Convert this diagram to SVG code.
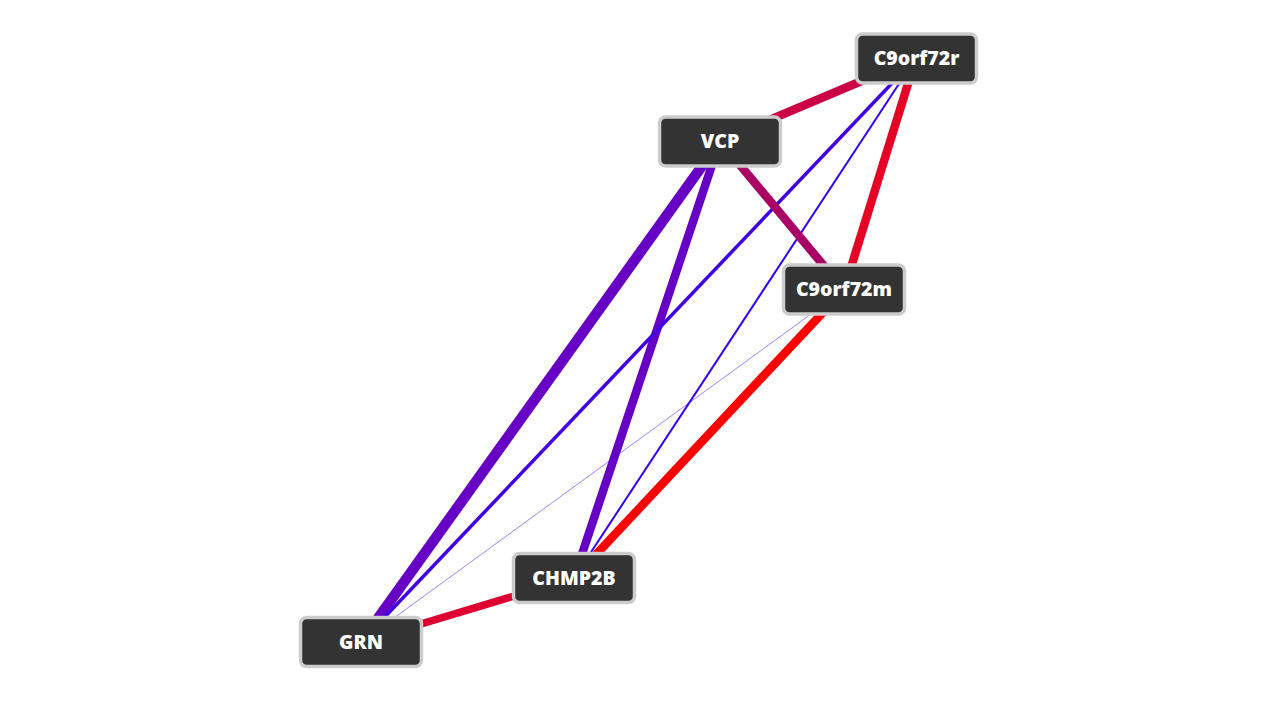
<svg xmlns="http://www.w3.org/2000/svg" width="1278" height="701" viewBox="0 0 1278 701">
<style>
.n rect{fill:#333333;stroke:#cccccc;stroke-width:3.5}
.n text{fill:#ffffff;font-family:"Open Sans","Noto Sans","DejaVu Sans",sans-serif;font-weight:800;font-size:19.5px;text-anchor:middle;dominant-baseline:central}
#edges line{fill:none}
</style>
<rect width="1278" height="701" fill="#ffffff"/>
<g id="edges">
<line x1="720" y1="141" x2="361" y2="642" stroke="#6600c4" stroke-width="10.5"/>
<line x1="720" y1="141" x2="574" y2="578" stroke="#6600c4" stroke-width="8.5"/>
<line x1="916" y1="58" x2="361" y2="642" stroke="#4000e6" stroke-width="3.5"/>
<line x1="916" y1="58" x2="574" y2="578" stroke="#3300ff" stroke-width="2"/>
<line x1="844" y1="290" x2="361" y2="642" stroke="#3300ff" stroke-width="0.8" stroke-opacity="0.6"/>
<line x1="720" y1="141" x2="844" y2="290" stroke="#aa0066" stroke-width="8.5"/>
<line x1="916" y1="58" x2="720" y2="141" stroke="#cc0044" stroke-width="8.5"/>
<line x1="916" y1="58" x2="844" y2="290" stroke="#e60026" stroke-width="8.5"/>
<line x1="844" y1="290" x2="574" y2="578" stroke="#ff0000" stroke-width="8.5"/>
<line x1="574" y1="578" x2="361" y2="642" stroke="#dd0030" stroke-width="7.5"/>
</g>
<g id="node-C9orf72r" class="n"><rect x="856.5" y="34" width="120" height="49" rx="6"/><text x="916.5" y="57.5">C9orf72r</text></g>
<g id="node-VCP" class="n"><rect x="659.5" y="117" width="121" height="49" rx="6"/><text x="720" y="140.5">VCP</text></g>
<g id="node-C9orf72m" class="n"><rect x="783.5" y="265" width="121" height="49" rx="6"/><text x="844" y="288.5">C9orf72m</text></g>
<g id="node-CHMP2B" class="n"><rect x="513.5" y="553.5" width="121" height="49" rx="6"/><text x="574" y="577">CHMP2B</text></g>
<g id="node-GRN" class="n"><rect x="300.5" y="617.5" width="121" height="49" rx="6"/><text x="361" y="641">GRN</text></g>
</svg>
